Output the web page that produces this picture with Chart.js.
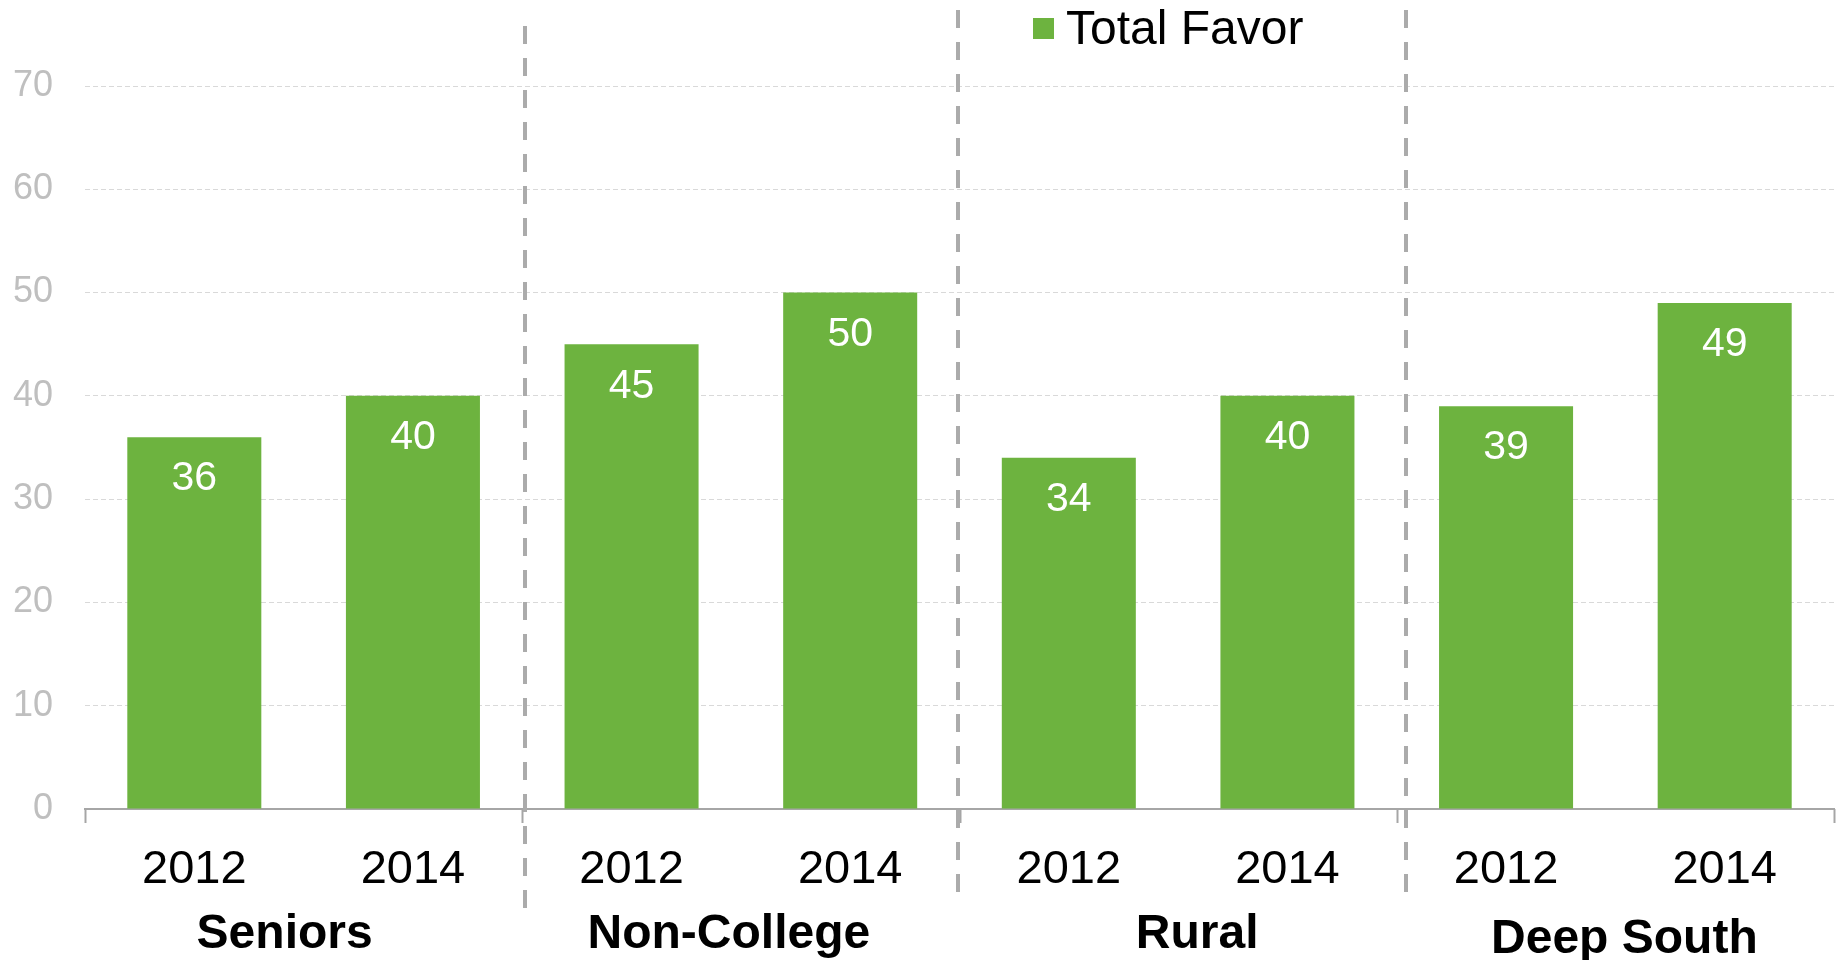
<!DOCTYPE html>
<html>
<head>
<meta charset="utf-8">
<script src="https://cdn.jsdelivr.net/npm/chart.js@4.4.1/dist/chart.umd.min.js"></script>
<style>
  html, body { margin: 0; padding: 0; background: #fff; }
  #wrap { width: 1841px; height: 960px; }
</style>
</head>
<body>
<div id="wrap"><canvas id="chart"></canvas></div>
<script>
// ============================================================
// DATOS
// ============================================================
const GRUPOS  = ['Seniors', 'Non-College', 'Rural', 'Deep South'];
const ANIOS   = ['2012', '2014', '2012', '2014', '2012', '2014', '2012', '2014'];
const VALORES = [36, 40, 45, 50, 34, 40, 39, 49];
const SERIE   = 'Total Favor';
const Y_TICKS = [0, 10, 20, 30, 40, 50, 60, 70];

const VERDE = '#6DB33F';
const GRIS  = '#A6A6A6';
const FUENTE = '"Liberation Sans", Arial, sans-serif';

// ============================================================
// PLUGIN — separadores, etiquetas de grupo, leyenda y valores
// ============================================================
const decoraciones = {
  id: 'decoraciones',
  afterDatasetsDraw(chart) {
    const { ctx, chartArea } = chart;
    const x = chart.scales.x;
    const meta = chart.getDatasetMeta(0);
    const borde = i => i === 0 ? chartArea.left
      : i === ANIOS.length ? chartArea.right
      : (x.getPixelForValue(i - 1) + x.getPixelForValue(i)) / 2;

    // pequeños ajustes de posición como en el original
    const sepDx   = [3, -2, 9];
    const sepTop  = [26, 10, 10];
    const sepBot  = [915, 899, 899];
    const grupoDx = [-19, -12, 19, 9];
    const grupoY  = [935, 935, 935, 940];

    ctx.save();

    // valores dentro de las barras
    ctx.fillStyle = '#ffffff';
    ctx.font = '41px ' + FUENTE;
    ctx.textAlign = 'center';
    ctx.textBaseline = 'middle';
    meta.data.forEach((bar, i) => {
      ctx.fillText(VALORES[i], bar.x, bar.y + 42);
    });

    // marcas del eje x en los límites de grupo
    ctx.strokeStyle = GRIS;
    ctx.lineWidth = 2;
    for (let g = 0; g <= GRUPOS.length; g++) {
      const px = Math.round(borde(g * 2)) + 0.5;
      ctx.beginPath();
      ctx.moveTo(px, chartArea.bottom);
      ctx.lineTo(px, chartArea.bottom + 14);
      ctx.stroke();
    }

    // líneas divisorias punteadas
    ctx.strokeStyle = '#ABABAB';
    ctx.lineWidth = 4;
    ctx.setLineDash([18, 14]);
    for (let g = 1; g < GRUPOS.length; g++) {
      const px = Math.round(borde(g * 2)) + sepDx[g - 1];
      ctx.beginPath();
      ctx.moveTo(px, sepTop[g - 1]);
      ctx.lineTo(px, sepBot[g - 1]);
      ctx.stroke();
    }
    ctx.setLineDash([]);

    // nombres de grupo
    ctx.fillStyle = '#000000';
    ctx.font = 'bold 48px ' + FUENTE;
    GRUPOS.forEach((nombre, g) => {
      const cx = (borde(g * 2) + borde(g * 2 + 2)) / 2 + grupoDx[g];
      ctx.fillText(nombre, cx, grupoY[g]);
    });

    // leyenda
    ctx.fillStyle = VERDE;
    ctx.fillRect(1033, 18, 21, 21);
    ctx.fillStyle = '#000000';
    ctx.font = '48px ' + FUENTE;
    ctx.textAlign = 'left';
    ctx.fillText(SERIE, 1066, 31);

    ctx.restore();
  }
};

// ============================================================
// GRÁFICA
// ============================================================
new Chart(document.getElementById('chart'), {
  type: 'bar',
  data: {
    labels: ANIOS,
    datasets: [{
      label: SERIE,
      data: VALORES,
      backgroundColor: VERDE,
      borderWidth: 0,
      categoryPercentage: 1,
      barPercentage: 0.613,
    }]
  },
  options: {
    responsive: true,
    maintainAspectRatio: false,
    animation: false,
    layout: { padding: { top: 86, right: 7, left: 0, bottom: 0 } },
    plugins: {
      legend: { display: false },
      tooltip: { enabled: false }
    },
    scales: {
      x: {
        afterFit: axis => { axis.height = 151; },
        grid: { display: false, drawTicks: false },
        border: { display: true, color: GRIS, width: 2 },
        ticks: {
          color: '#000000',
          font: { family: FUENTE, size: 47 },
          padding: 33,
          maxRotation: 0,
          autoSkip: false
        }
      },
      y: {
        min: 0,
        max: 70,
        afterFit: axis => { axis.width = 85; },
        afterBuildTicks: axis => { axis.ticks = Y_TICKS.map(v => ({ value: v })); },
        border: { display: false, dash: [5, 3] },
        grid: { color: '#D9D9D9', lineWidth: 1, drawTicks: false },
        ticks: {
          color: '#BFBFBF',
          font: { family: FUENTE, size: 36 },
          padding: 32
        }
      }
    }
  },
  plugins: [decoraciones]
});
</script>
</body>
</html>
